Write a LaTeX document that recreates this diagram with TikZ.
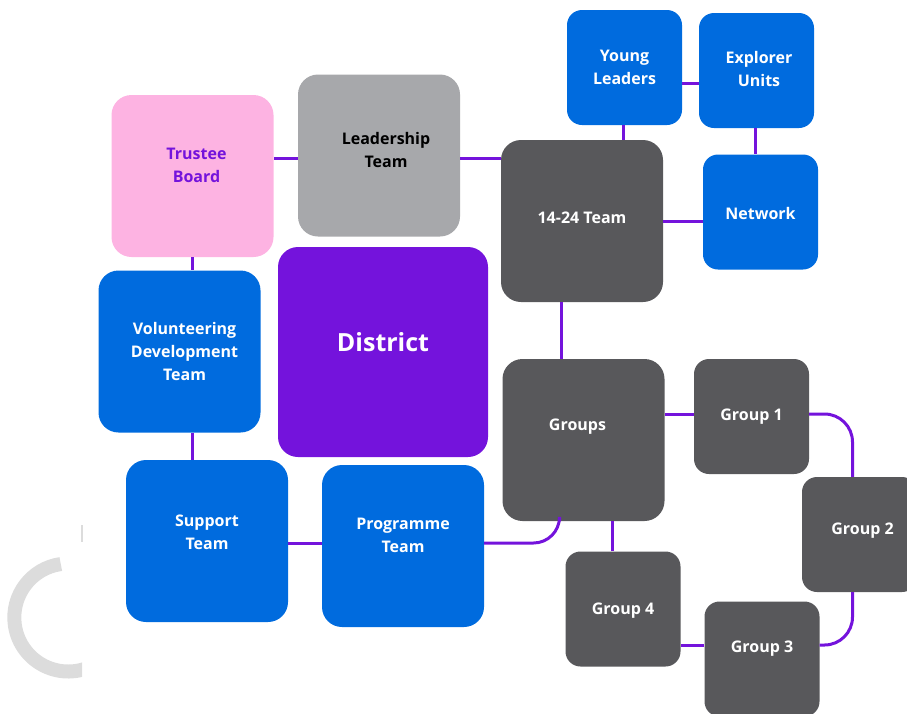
\documentclass[tikz,border=0pt]{standalone}
\usepackage{fontspec}
\setmainfont{Open Sans}
\definecolor{scoutpurple}{HTML}{7413DC}
\definecolor{scoutblue}{HTML}{006BDE}
\definecolor{scoutpink}{HTML}{FDB3E2}
\definecolor{darkgrey}{HTML}{58585B}
\definecolor{midgrey}{HTML}{A7A8AB}
\definecolor{ringgrey}{HTML}{DCDCDC}
\tikzset{
  box/.style={rectangle,rounded corners=20pt,inner sep=0pt,minimum width=162pt,minimum height=162pt},
  smallbox/.style={box,rounded corners=15pt,minimum width=115pt,minimum height=115pt},
  lbl/.style={font=\bfseries\fontsize{16}{23}\selectfont,align=center,text=white},
  link/.style={draw=scoutpurple,line width=3pt}
}
\begin{document}
\begin{tikzpicture}[x=1pt,y=-1pt]
\useasboundingbox (0,0) rectangle (907,713);
\begin{scope}
\clip (0,500) rectangle (82,700);
\draw[ringgrey,line width=14pt] (68.3,617.5) ++(262:54) arc[start angle=262,end angle=60,radius=54];
\end{scope}
\draw[ringgrey,line width=1.5pt] (82,525) -- (82,542);

\node[box,fill=scoutpink,label={[lbl,text=scoutpurple,xshift=4pt,yshift=11pt]center:Trustee\\Board}] (trustee) at (192.5,176) {};
\node[box,fill=midgrey,label={[lbl,text=black,xshift=7pt,yshift=5.5pt]center:Leadership\\Team}] (leader) at (379,155.5) {};
\node[box,fill=scoutpurple,minimum width=210pt,minimum height=210pt,label={[lbl,font=\bfseries\fontsize{25}{30}\selectfont,yshift=10pt]center:District}] (district) at (383,352) {};
\node[box,fill=darkgrey,label={[lbl,yshift=3pt]center:14-24 Team}] (team) at (582,221) {};
\node[smallbox,fill=scoutblue,label={[lbl,yshift=0.5pt]center:Young\\Leaders}] (young) at (624.5,67.5) {};
\node[smallbox,fill=scoutblue,label={[lbl,xshift=2.5pt,yshift=2pt]center:Explorer\\Units}] (explorer) at (756.5,70.5) {};
\node[smallbox,fill=scoutblue,label={[lbl,yshift=-1pt]center:Network}] (network) at (760.5,212) {};
\node[box,fill=scoutblue,label={[lbl,xshift=5pt]center:Volunteering\\Development\\Team}] (volunteer) at (179.5,351.5) {};
\node[box,fill=scoutblue,label={[lbl,yshift=8.5pt]center:Support\\Team}] (support) at (207,541) {};
\node[box,fill=scoutblue,label={[lbl,yshift=11pt]center:Programme\\Team}] (programme) at (403,546) {};
\node[box,fill=darkgrey,label={[lbl,xshift=-6pt,yshift=13pt]center:Groups}] (groups) at (583.5,440) {};
\node[smallbox,fill=darkgrey,label={[lbl]center:Group 1}] (group1) at (751.5,416.5) {};
\node[smallbox,fill=darkgrey,label={[lbl,xshift=3pt,yshift=4pt]center:Group 2}] (group2) at (859.5,534.5) {};
\node[smallbox,fill=darkgrey,label={[lbl,yshift=10.5pt]center:Group 3}] (group3) at (762,659) {};
\node[smallbox,fill=darkgrey,label={[lbl,yshift=-2pt]center:Group 4}] (group4) at (623,609) {};

\draw[link] ([yshift=-2.5pt]leader.west) -- ([yshift=-2.5pt]leader.west -| trustee.east);
\draw[link] ([yshift=-2.5pt]leader.east) -- ([yshift=-2.5pt]leader.east -| team.west);
\draw[link] ([yshift=-16pt]young.east) -- ([yshift=-16pt]young.east -| explorer.west);
\draw[link] ([xshift=-1.5pt]young.south) -- ([xshift=-1.5pt]young.south |- team.north);
\draw[link] ([xshift=-1.5pt]explorer.south) -- ([xshift=-1.5pt]explorer.south |- network.north);
\draw[link] (team.east) -- (team.east -| network.west);
\draw[link] ([xshift=-21pt]team.south) -- ([xshift=-21pt]team.south |- groups.north);
\draw[link] (trustee.south) -- (trustee.south |- volunteer.north);
\draw[link] (trustee.south |- volunteer.south) -- (trustee.south |- support.north);
\draw[link] ([yshift=-2.5pt]support.east) -- ([yshift=-2.5pt]support.east -| programme.west);
\draw[link,rounded corners=26pt] ([yshift=3pt]programme.east) -| ([xshift=-24pt]groups.south);
\draw[link] ([yshift=2.5pt]group1.west) -- ([yshift=2.5pt]group1.west -| groups.east);
\draw[link] ([xshift=-11pt]group4.north) -- ([xshift=-11pt]group4.north |- groups.south);
\draw[link,rounded corners=28pt] ([yshift=2.5pt]group1.east) -| ([xshift=-7pt]group2.north);
\draw[link,rounded corners=28pt] ([xshift=-7pt]group2.south) |- ([yshift=14pt]group3.east);
\draw[link] ([yshift=14pt]group3.west) -- ([yshift=14pt]group3.west -| group4.east);
\end{tikzpicture}
\end{document}
